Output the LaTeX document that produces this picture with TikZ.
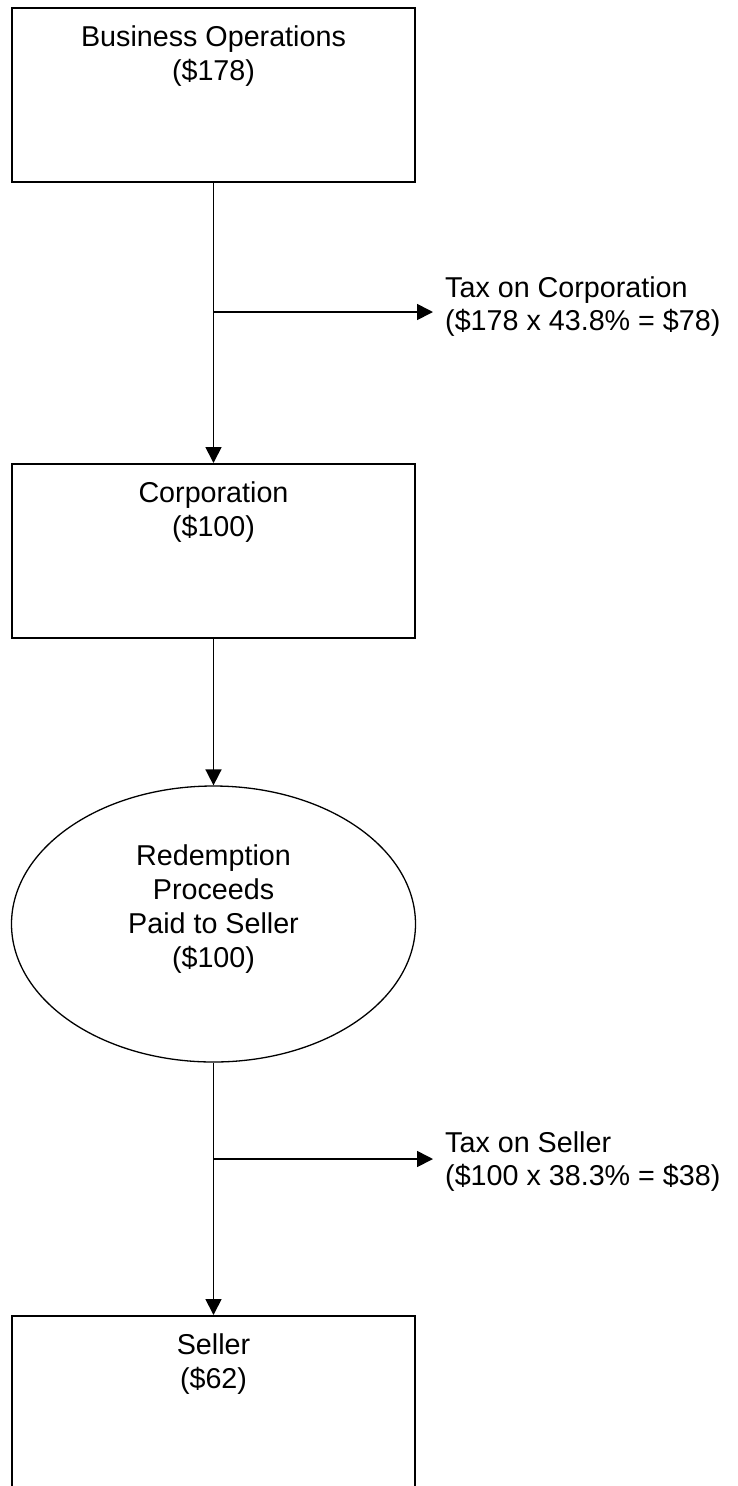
\documentclass[tikz,border=0pt]{standalone}
\usepackage{fontspec}
\setmainfont{Liberation Sans}
\usetikzlibrary{arrows.meta,shapes.geometric}
\begin{document}
\begin{tikzpicture}[x=1pt,y=-1pt,
  font=\fontsize{28.7}{34}\selectfont,
  box/.style={draw,line width=2pt,minimum width=403pt,minimum height=174pt,inner sep=0pt,anchor=north},
  lbl/.style={align=center,inner sep=0pt,anchor=base},
  flow/.style={line width=1.7pt,-{Triangle[length=16pt,width=16pt]}},
  tax/.style={align=left,inner sep=0pt,anchor=base west,font=\fontsize{28.7}{33}\selectfont}]
\useasboundingbox (0,0) rectangle (738,1486);
\clip (0,0) rectangle (738,1486);
% boxes and ellipse (base anchor = baseline of last line)
\node[box] (b1) at (213.5,7) {};
\node[lbl] (b1t) at (213.5,80) {Business Operations\\(\$178)};
\node[box] (b2) at (213.5,463) {};
\node[lbl] (b2t) at (213.5,536) {Corporation\\(\$100)};
\node[draw,ellipse,line width=1.3pt,minimum width=404pt,minimum height=276pt,inner sep=0pt] (red) at (213.5,924) {};
\node[lbl] (redt) at (213.5,967) {Redemption\\Proceeds\\Paid to Seller\\(\$100)};
\node[box] (b3) at (213.5,1315) {};
\node[lbl] (b3t) at (213.5,1388) {Seller\\(\$62)};
% tax labels
\node[tax] (tx1) at (445,330) {Tax on Corporation\\(\$178 x 43.8\% = \$78)};
\node[tax] (tx2) at (445,1185) {Tax on Seller\\(\$100 x 38.3\% = \$38)};
% branch points
\coordinate (j1) at (213.5,312);
\coordinate (e1) at (433,312);
\coordinate (j2) at (213.5,1159);
\coordinate (e2) at (433,1159);
% connectors
\draw[flow] (b1.south) -- (b2.north);
\draw[flow] (b2.south) -- (red.north);
\draw[flow] (red.south) -- (b3.north);
\draw[flow] (j1) -- (e1);
\draw[flow] (j2) -- (e2);
\end{tikzpicture}
\end{document}
